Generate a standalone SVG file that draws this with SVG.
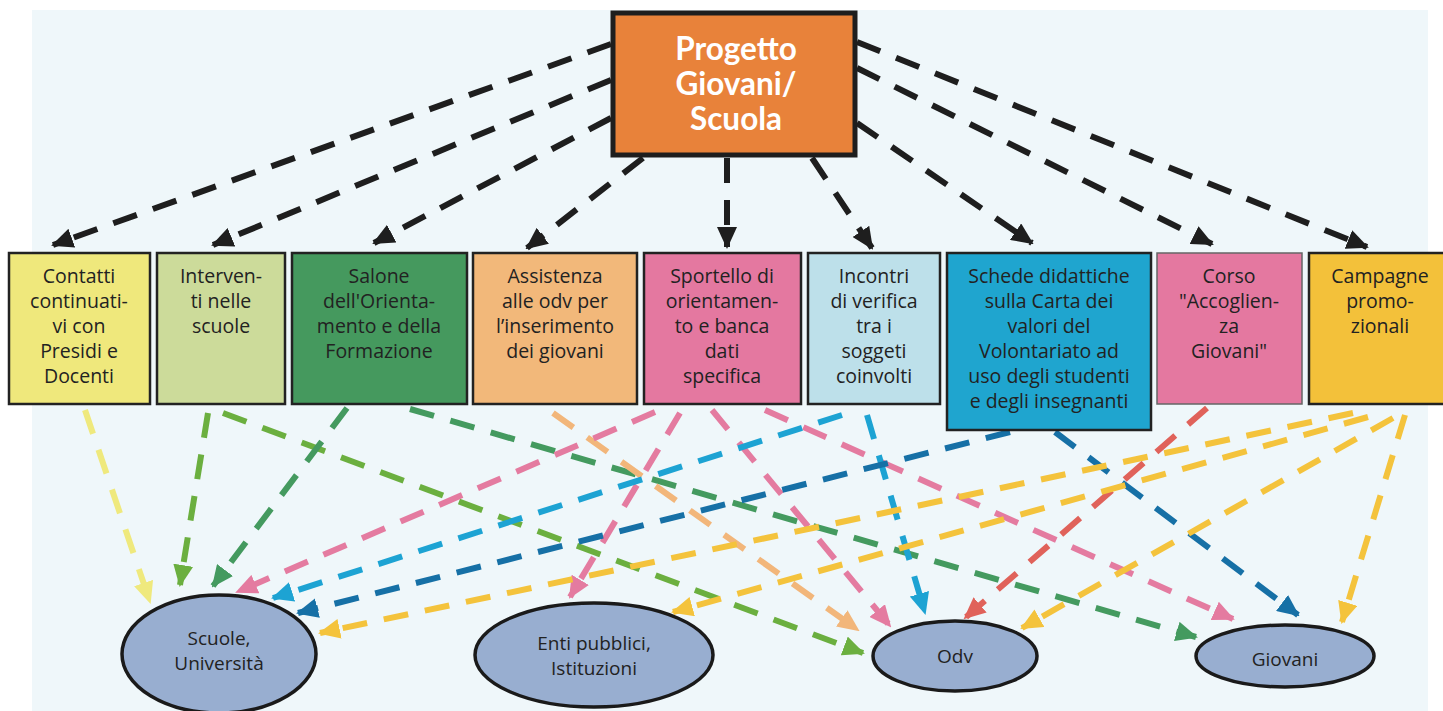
<svg xmlns="http://www.w3.org/2000/svg" width="1443" height="711" viewBox="0 0 1443 711">
<style>
.bg{fill:#EFF7FA}
.box{stroke:#222;stroke-width:2.5}
.t{font-family:"Open Sans","Liberation Sans",sans-serif;font-size:19.5px;fill:#222;text-anchor:middle}
.tt{font-family:Lato,"Open Sans","Liberation Sans",sans-serif;font-size:31.5px;font-weight:bold;fill:#fff;text-anchor:middle}
.el{fill:#98AED0;stroke:#1a1a1a;stroke-width:3.5}
.et{font-family:"Open Sans","Liberation Sans",sans-serif;font-size:19px;fill:#222;text-anchor:middle}
.c{fill:none;stroke-width:6;stroke-dasharray:25 17}
</style>
<defs>
<marker id="mk" markerUnits="userSpaceOnUse" markerWidth="22" markerHeight="20" refX="20" refY="10" orient="auto"><path d="M0,0 L22,10 L0,20 z" fill="#1e1e1e"/></marker>
<marker id="m1" markerUnits="userSpaceOnUse" markerWidth="22" markerHeight="20" refX="20" refY="10" orient="auto"><path d="M0,0 L22,10 L0,20 z" fill="#EFE97D"/></marker>
<marker id="m2" markerUnits="userSpaceOnUse" markerWidth="22" markerHeight="20" refX="20" refY="10" orient="auto"><path d="M0,0 L22,10 L0,20 z" fill="#6BAF3F"/></marker>
<marker id="m3" markerUnits="userSpaceOnUse" markerWidth="22" markerHeight="20" refX="20" refY="10" orient="auto"><path d="M0,0 L22,10 L0,20 z" fill="#449A5F"/></marker>
<marker id="m4" markerUnits="userSpaceOnUse" markerWidth="22" markerHeight="20" refX="20" refY="10" orient="auto"><path d="M0,0 L22,10 L0,20 z" fill="#F2B67A"/></marker>
<marker id="m5" markerUnits="userSpaceOnUse" markerWidth="22" markerHeight="20" refX="20" refY="10" orient="auto"><path d="M0,0 L22,10 L0,20 z" fill="#E47BA0"/></marker>
<marker id="m6" markerUnits="userSpaceOnUse" markerWidth="22" markerHeight="20" refX="20" refY="10" orient="auto"><path d="M0,0 L22,10 L0,20 z" fill="#1DA3D3"/></marker>
<marker id="m7" markerUnits="userSpaceOnUse" markerWidth="22" markerHeight="20" refX="20" refY="10" orient="auto"><path d="M0,0 L22,10 L0,20 z" fill="#1670A6"/></marker>
<marker id="m8" markerUnits="userSpaceOnUse" markerWidth="22" markerHeight="20" refX="20" refY="10" orient="auto"><path d="M0,0 L22,10 L0,20 z" fill="#E0625A"/></marker>
<marker id="m9" markerUnits="userSpaceOnUse" markerWidth="22" markerHeight="20" refX="20" refY="10" orient="auto"><path d="M0,0 L22,10 L0,20 z" fill="#F4C33C"/></marker>
</defs>
<rect x="0" y="0" width="1443" height="711" fill="#fff"/>
<rect class="bg" x="32" y="10" width="1396" height="701"/>

<g id="connectors">
<line class="c" stroke="#1e1e1e" x1="611" y1="44" x2="53" y2="245" marker-end="url(#mk)"/>
<line class="c" stroke="#1e1e1e" x1="611" y1="80" x2="213" y2="245" marker-end="url(#mk)"/>
<line class="c" stroke="#1e1e1e" x1="611" y1="118" x2="374" y2="243" marker-end="url(#mk)"/>
<line class="c" stroke="#1e1e1e" x1="643" y1="158" x2="527" y2="248" marker-end="url(#mk)"/>
<line class="c" stroke="#1e1e1e" x1="727" y1="158" x2="727" y2="247" marker-end="url(#mk)"/>
<line class="c" stroke="#1e1e1e" x1="812" y1="158" x2="872" y2="248" marker-end="url(#mk)"/>
<line class="c" stroke="#1e1e1e" x1="857" y1="123" x2="1032" y2="243" marker-end="url(#mk)"/>
<line class="c" stroke="#1e1e1e" x1="857" y1="68" x2="1212" y2="244" marker-end="url(#mk)"/>
<line class="c" stroke="#1e1e1e" x1="857" y1="42" x2="1367" y2="247" marker-end="url(#mk)"/>
<line class="c" stroke="#EFE97D" x1="85" y1="410" x2="150" y2="602" marker-end="url(#m1)"/>
<line class="c" stroke="#6BAF3F" x1="208" y1="413" x2="180" y2="585" marker-end="url(#m2)"/>
<line class="c" stroke="#6BAF3F" x1="223" y1="413" x2="863" y2="653" marker-end="url(#m2)"/>
<line class="c" stroke="#449A5F" x1="347" y1="408" x2="213" y2="586" marker-end="url(#m3)"/>
<line class="c" stroke="#449A5F" x1="410" y1="409" x2="1196" y2="637" marker-end="url(#m3)"/>
<line class="c" stroke="#F2B67A" x1="553" y1="413" x2="858" y2="630" marker-end="url(#m4)"/>
<line class="c" stroke="#E47BA0" x1="655" y1="412" x2="237" y2="592" marker-end="url(#m5)"/>
<line class="c" stroke="#E47BA0" x1="680" y1="413" x2="570" y2="597" marker-end="url(#m5)"/>
<line class="c" stroke="#E47BA0" x1="712" y1="410" x2="890" y2="626" marker-end="url(#m5)"/>
<line class="c" stroke="#E47BA0" x1="765" y1="410" x2="1233" y2="619" marker-end="url(#m5)"/>
<line class="c" stroke="#1DA3D3" x1="842" y1="415" x2="273" y2="598" marker-end="url(#m6)"/>
<line class="c" stroke="#1DA3D3" x1="867" y1="415" x2="925" y2="613" marker-end="url(#m6)"/>
<line class="c" stroke="#1670A6" x1="1010" y1="432" x2="298" y2="613" marker-end="url(#m7)"/>
<line class="c" stroke="#1670A6" x1="1055" y1="432" x2="1298" y2="615" marker-end="url(#m7)"/>
<line class="c" stroke="#E0625A" x1="1207" y1="408" x2="965" y2="618" marker-end="url(#m8)"/>
<line class="c" stroke="#F4C33C" x1="1353" y1="413" x2="320" y2="633" marker-end="url(#m9)"/>
<line class="c" stroke="#F4C33C" x1="1368" y1="417" x2="673" y2="612" marker-end="url(#m9)"/>
<line class="c" stroke="#F4C33C" x1="1393" y1="418" x2="1022" y2="628" marker-end="url(#m9)"/>
<line class="c" stroke="#F4C33C" x1="1405" y1="415" x2="1342" y2="622" marker-end="url(#m9)"/>
</g>

<g id="n0">
<rect x="613" y="13" width="242" height="142" fill="#E8823A" stroke="#1e1e1e" stroke-width="5"/>
<text class="tt" x="736" y="60">Progetto</text>
<text class="tt" x="736" y="95">Giovani/</text>
<text class="tt" x="736" y="130">Scuola</text>
</g>

<g id="n1">
<rect class="box" x="9" y="253" width="141" height="151" fill="#EFE87C"/>
<text class="t" x="79" y="283">Contatti</text>
<text class="t" x="79" y="308">continuati-</text>
<text class="t" x="79" y="333">vi con</text>
<text class="t" x="79" y="358">Presidi e</text>
<text class="t" x="79" y="383">Docenti</text>
</g>
<g id="n2">
<rect class="box" x="157" y="253" width="128" height="151" fill="#CCDB9A"/>
<text class="t" x="221" y="283">Interven-</text>
<text class="t" x="221" y="308">ti nelle</text>
<text class="t" x="221" y="333">scuole</text>
</g>
<g id="n3">
<rect class="box" x="292" y="253" width="175" height="151" fill="#45995E"/>
<text class="t" x="379" y="283">Salone</text>
<text class="t" x="379" y="308">dell'Orienta-</text>
<text class="t" x="379" y="333">mento e della</text>
<text class="t" x="379" y="358">Formazione</text>
</g>
<g id="n4">
<rect class="box" x="473" y="253" width="164" height="151" fill="#F2B87A"/>
<text class="t" x="555" y="283">Assistenza</text>
<text class="t" x="555" y="308">alle odv per</text>
<text class="t" x="555" y="333">l’inserimento</text>
<text class="t" x="555" y="358">dei giovani</text>
</g>
<g id="n5">
<rect class="box" x="644" y="253" width="157" height="151" fill="#E478A0"/>
<text class="t" x="722" y="283">Sportello di</text>
<text class="t" x="722" y="308">orientamen-</text>
<text class="t" x="722" y="333">to e banca</text>
<text class="t" x="722" y="358">dati</text>
<text class="t" x="722" y="383">specifica</text>
</g>
<g id="n6">
<rect class="box" x="808" y="253" width="132" height="151" fill="#BDE0EA"/>
<text class="t" x="874" y="283">Incontri</text>
<text class="t" x="874" y="308">di verifica</text>
<text class="t" x="874" y="333">tra i</text>
<text class="t" x="874" y="358">soggeti</text>
<text class="t" x="874" y="383">coinvolti</text>
</g>
<g id="n7">
<rect class="box" x="947" y="253" width="204" height="177" fill="#1FA5CF"/>
<text class="t" x="1049" y="283">Schede didattiche</text>
<text class="t" x="1049" y="308">sulla Carta dei</text>
<text class="t" x="1049" y="333">valori del</text>
<text class="t" x="1049" y="358">Volontariato ad</text>
<text class="t" x="1049" y="383">uso degli studenti</text>
<text class="t" x="1049" y="408">e degli insegnanti</text>
</g>
<g id="n8">
<rect x="1157" y="253" width="145" height="151" fill="#E478A0" stroke="#666" stroke-width="1.5"/>
<text class="t" x="1229" y="283">Corso</text>
<text class="t" x="1229" y="308">"Accoglien-</text>
<text class="t" x="1229" y="333">za</text>
<text class="t" x="1229" y="358">Giovani"</text>
</g>
<g id="n9">
<rect class="box" x="1309" y="253" width="145" height="151" fill="#F3C13A"/>
<text class="t" x="1380" y="283">Campagne</text>
<text class="t" x="1380" y="308">promo-</text>
<text class="t" x="1380" y="333">zionali</text>
</g>

<g id="e1">
<ellipse class="el" cx="219" cy="654" rx="97" ry="59"/>
<text class="et" x="219" y="645">Scuole,</text>
<text class="et" x="219" y="670">Università</text>
</g>
<g id="e2">
<ellipse class="el" cx="594" cy="655" rx="119" ry="52"/>
<text class="et" x="594" y="650">Enti pubblici,</text>
<text class="et" x="594" y="675">Istituzioni</text>
</g>
<g id="e3">
<ellipse class="el" cx="955" cy="656" rx="82" ry="35"/>
<text class="et" x="955" y="663">Odv</text>
</g>
<g id="e4">
<ellipse class="el" cx="1285" cy="656" rx="89" ry="31"/>
<text class="et" x="1285" y="666">Giovani</text>
</g>
</svg>
